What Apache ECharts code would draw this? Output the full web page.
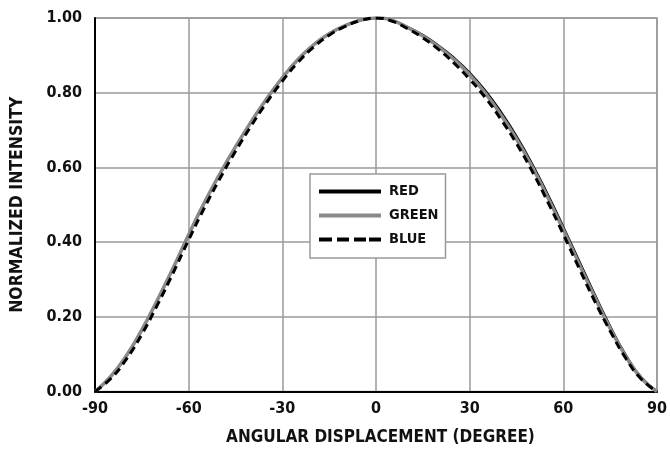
<!DOCTYPE html>
<html><head><meta charset="utf-8">
<script src="https://cdn.jsdelivr.net/npm/echarts@6/dist/echarts.min.js"></script>
<style>html,body{margin:0;padding:0;background:#fff}#c{width:670px;height:459px}</style>
</head><body><div id="c"></div>
<script>
var angles = [-90,-85,-80,-75,-70,-65,-60,-55,-50,-45,-40,-35,-30,-25,-20,-15,-10,-5,0,5,10,15,20,25,30,35,40,45,50,55,60,65,70,75,80,85,90];
var red   = [0,0.04,0.095,0.165,0.245,0.33,0.42,0.505,0.583,0.655,0.722,0.784,0.84,0.889,0.928,0.958,0.979,0.994,1.0,0.994,0.976,0.954,0.926,0.893,0.853,0.805,0.748,0.683,0.609,0.527,0.44,0.35,0.26,0.174,0.097,0.037,0];
var green = [0,0.04,0.095,0.165,0.245,0.33,0.42,0.505,0.583,0.655,0.722,0.784,0.84,0.889,0.928,0.958,0.979,0.994,1.0,0.994,0.975,0.952,0.923,0.889,0.848,0.799,0.741,0.676,0.602,0.52,0.433,0.343,0.254,0.169,0.094,0.035,0];
var blue  = [0,0.034,0.086,0.153,0.232,0.317,0.406,0.491,0.57,0.643,0.711,0.774,0.831,0.881,0.922,0.954,0.977,0.993,1.0,0.992,0.972,0.947,0.916,0.879,0.836,0.787,0.729,0.664,0.59,0.508,0.421,0.331,0.243,0.162,0.089,0.033,0];
var yTicks = ['0.00','0.20','0.40','0.60','0.80','1.00'];
var xTitle = 'ANGULAR DISPLACEMENT (DEGREE)';
var yTitle = 'NORMALIZED INTENSITY';
var names = ['RED','GREEN','BLUE'];

function pairs(v){ return angles.map(function(a,i){ return [a, v[i]]; }); }
var FONT = "'DejaVu Sans Condensed','Liberation Sans Narrow',sans-serif";
var SOLID = 'path://M0,0H62V4H0Z';
var DASH = 'path://M0,0H13V4H0Z M18,0H30V4H18Z M35,0H47V4H35Z M50,0H62V4H50Z';
var chart = echarts.init(document.getElementById('c'), null, {renderer:'canvas'});
chart.setOption({
  animation:false,
  backgroundColor:'#fff',
  grid:{left:94, top:18, right:10, bottom:67.5, show:true, borderColor:'#9a9a9a', borderWidth:1.5},
  xAxis:{type:'value', min:-90, max:90, interval:30,
    name:xTitle, nameLocation:'middle', nameGap:38,
    nameTextStyle:{fontFamily:FONT, fontWeight:'bold', fontSize:17, color:'#111', padding:[0,0,0,9]},
    axisLine:{show:true, onZero:false, lineStyle:{color:'#000', width:2}},
    axisTick:{show:false},
    axisLabel:{fontFamily:FONT, fontWeight:'bold', fontSize:16, color:'#111', margin:9},
    splitLine:{show:true, lineStyle:{color:'#9a9a9a', width:1.5}}},
  yAxis:{type:'value', min:0, max:1, interval:0.2,
    name:yTitle, nameLocation:'middle', nameGap:69, nameRotate:90,
    nameTextStyle:{fontFamily:FONT, fontWeight:'bold', fontSize:17.5, color:'#111'},
    axisLine:{show:true, onZero:false, lineStyle:{color:'#000', width:2}},
    axisTick:{show:false},
    axisLabel:{fontFamily:FONT, fontWeight:'bold', fontSize:16, color:'#111', margin:13,
      formatter:function(v){ return yTicks[Math.round(v/0.2)]; }},
    splitLine:{show:true, lineStyle:{color:'#9a9a9a', width:1.5}}},
  legend:{orient:'vertical', left:310, top:174,
    padding:[10,7,11,9], itemGap:9, itemWidth:62, itemHeight:18, symbolKeepAspect:true,
    backgroundColor:'#fff', borderColor:'#9a9a9a', borderWidth:1.5,
    itemStyle:{borderWidth:0},
    data:[
      {name:'RED', icon:SOLID, itemStyle:{color:'#000', borderWidth:0}},
      {name:'GREEN', icon:SOLID, itemStyle:{color:'#8a8a8a', borderWidth:0}},
      {name:'BLUE', icon:DASH, itemStyle:{color:'#000', borderWidth:0}}
    ],
    textStyle:{fontFamily:FONT, fontWeight:'bold', fontSize:14.5, color:'#111', padding:[0,0,0,3]}},
  series:[
    {name:'RED', type:'line', data:pairs(red), smooth:true, symbol:'none', z:2,
      lineStyle:{color:'#000', width:2.5}, itemStyle:{color:'#000'}},
    {name:'GREEN', type:'line', data:pairs(green), smooth:true, symbol:'none', z:3,
      lineStyle:{color:'#8a8a8a', width:3.5}, itemStyle:{color:'#8a8a8a'}},
    {name:'BLUE', type:'line', data:pairs(blue), smooth:true, symbol:'none', z:4,
      lineStyle:{color:'#000', width:3, type:[8,5]}, itemStyle:{color:'#000'}}
  ]
});
</script></body></html>
